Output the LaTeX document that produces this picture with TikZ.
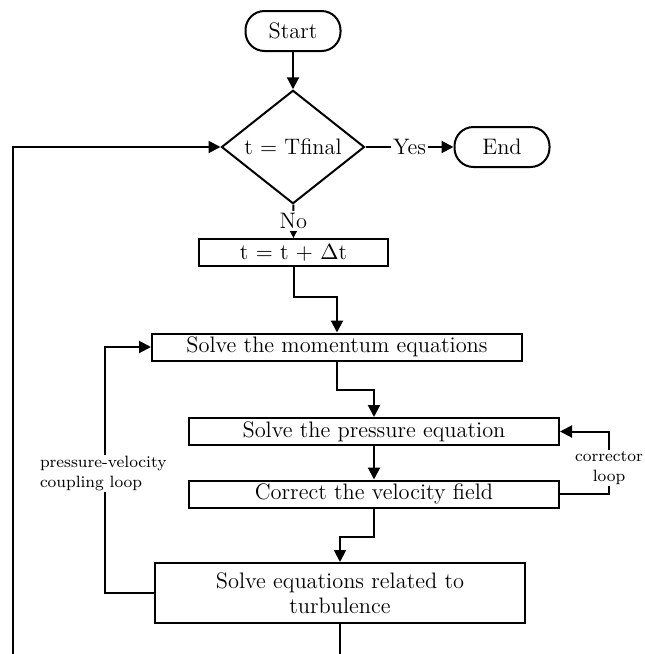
\documentclass[tikz,border=0pt]{standalone}
\usepackage{amsmath}
\usetikzlibrary{shapes.geometric,arrows.meta}
\tikzset{every picture/.style={line width=1pt}}

\begin{document}
\begin{tikzpicture}[x=0.5pt,y=0.5pt,yscale=-1,xscale=1,
  mainfont/.style={font=\fontsize{11.2}{12.5}\selectfont},
  terminal/.style={draw,rounded corners=9.5pt,minimum width=47.5pt,minimum height=20pt,inner sep=0pt,mainfont},
  decision/.style={draw,diamond,minimum width=71.5pt,minimum height=43pt,inner sep=0pt,mainfont},
  process/.style={draw,minimum width=185pt,minimum height=13.5pt,inner sep=0pt,mainfont},
  flow/.style={-{Triangle[length=6pt,width=6pt]}},
  onarrow/.style={fill=white,inner sep=1pt,mainfont},
  looplabel/.style={fill=white,inner sep=1pt,font=\fontsize{8.2}{9.6}\selectfont}]
\useasboundingbox (0,0) rectangle (644,654);

%Shape: Terminals and Decision
\node[terminal] (start) at (293,31) {Start};
\node[decision] (check) at (293,147) {t $=$ Tfinal};
\node[terminal] (finish) at (502,147) {End};

%Shape: Process boxes
\node[process,minimum width=94.5pt] (tstep) at (293.5,252.5) {t $=$ t $+$ $\Delta$t};
\node[process] (momentum) at (337,347) {Solve the momentum equations};
\node[process] (pressure) at (374,431.5) {Solve the pressure equation};
\node[process] (velocity) at (374,494) {Correct the velocity field};
\node[process,minimum height=30pt,align=center] (turbulence) at (340,593) {Solve equations related to\\turbulence};

%Loose ends at the lower border
\coordinate (turbout) at (340,654);
\coordinate (loopin) at (13,654);

%Straight Lines
\draw[flow] (start) -- (check);
\draw[flow] (check) -- node[onarrow] {Yes} (finish);
\draw[flow] (check) -- node[onarrow] {No} (tstep);
\draw[flow] (tstep.south) -- ++(0,30) -| (momentum.north);
\draw[flow] (momentum.south) -- ++(0,28) -| (pressure.north);
\draw[flow] (pressure) -- (velocity);
\draw[flow] (velocity.south) -- ++(0,28) -| (turbulence.north);
\draw (turbulence) -- (turbout);
\draw[flow] (loopin) |- (check.west);
\draw[flow] (turbulence.west) -- ++(-49,0) |- (momentum.west);
\draw[flow] (velocity.east) -- ++(49,0) |- (pressure.east);

% Text Node
\node[looplabel,anchor=west,align=left] (pvlabel) at (37,473.5) {pressure-velocity\\coupling loop};
% Text Node
\node[looplabel,align=center] (corrlabel) at (609,468) {corrector\\loop};

\end{tikzpicture}
\end{document}
